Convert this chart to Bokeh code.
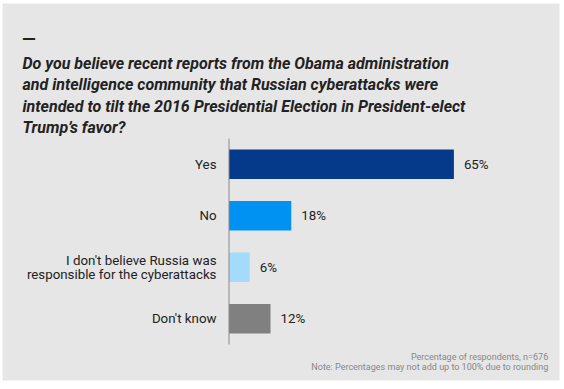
from bokeh.plotting import figure
from bokeh.models import Label, LabelSet, Range1d, ColumnDataSource
from bokeh.core.properties import value
from bokeh.embed import file_html
from bokeh.resources import INLINE

categories = ["Yes", "No",
              "I don't believe Russia was\nresponsible for the cyberattacks",
              "Don't know"]
values = [65, 18, 6, 12]
value_labels = ["65%", "18%", "6%", "12%"]
colors = ["#053a8b", "#0092f2", "#a3dcfa", "#808080"]
title_lines = [
    "Do you believe recent reports from the Obama administration",
    "and intelligence community that Russian cyberattacks were",
    "intended to tilt the 2016 Presidential Election in President-elect",
    "Trump\u2019s favor?",
]
notes = ["Percentage of respondents, n=676",
         "Note: Percentages may not add up to 100% due to rounding"]

BG = "#e6e6e6"
FONT = "Roboto"
TXT = "#222222"

# frame covers the grey panel; the scales put x=0 on the axis line
K = 3.46          # px per percent
BAND = 51.5       # px per category
X0_PX, Y0_PX = 228.5, 163.8
FL, FT, FR, FB = 2, 3, 559, 380
LINE_PX = 14.0
x_range = Range1d(-(X0_PX - FL) / K, (FR - X0_PX) / K)
y_range = Range1d((FB - Y0_PX) / BAND, -(Y0_PX - FT) / BAND)

p = figure(width=561, height=382, x_range=x_range, y_range=y_range,
           x_axis_type=None, y_axis_type=None,
           output_backend="svg", toolbar_location=None,
           min_border_left=FL, min_border_top=FT,
           min_border_right=561 - FR, min_border_bottom=382 - FB,
           background_fill_color=BG, border_fill_color="white",
           outline_line_color=None)
p.grid.visible = False

idx = list(range(len(categories)))
src = ColumnDataSource(dict(i=idx, val=values, lab=value_labels, col=colors))

p.hbar(y="i", right="val", left=0, height=0.573, color="col", line_color=None, source=src)

# axis line
p.segment(x0=[0], y0=[-0.5], x1=[0], y1=[len(categories) - 0.5],
          line_color="#8a8a8a", line_width=1)

# category labels, each line right-aligned on its own
lx, ly, lt = [], [], []
for i, cat in enumerate(categories):
    parts = cat.split("\n")
    n = len(parts)
    for j, part in enumerate(parts):
        lx.append(0)
        ly.append(i + (j - (n - 1) / 2) * LINE_PX / BAND)
        lt.append(part)
cat_src = ColumnDataSource(dict(x=lx, y=ly, t=lt))
p.add_layout(LabelSet(x="x", y="y", text="t", source=cat_src, x_offset=-12.5,
                      text_baseline="middle", text_align="right",
                      text_font=value(FONT), text_font_size="13.3px",
                      text_color=TXT))
p.add_layout(LabelSet(x="val", y="i", text="lab", source=src, x_offset=10,
                      text_baseline="middle", text_align="left",
                      text_font=value(FONT), text_font_size="13.3px", text_color=TXT))

def sx(px):
    return px - FL

def sy(py):
    return FB - py

p.add_layout(Label(x=sx(21.5), y=sy(37.5), x_units="screen", y_units="screen", text="\u2014",
                   text_font=FONT, text_font_style="bold", text_font_size="18px",
                   text_color=TXT, text_baseline="alphabetic"))
for i, line in enumerate(title_lines):
    p.add_layout(Label(x=sx(22), y=sy(63.3 + 21.1 * i), x_units="screen", y_units="screen",
                       text=line, text_font=FONT, text_font_style="bold italic",
                       text_font_size="16px", text_color=TXT,
                       text_baseline="alphabetic"))
for i, line in enumerate(notes):
    p.add_layout(Label(x=sx(547.7), y=sy(356.7 + 9.3 * i), x_units="screen", y_units="screen",
                       text=line, text_font=FONT, text_font_size="9px",
                       text_color="#888888", text_align="right",
                       text_baseline="alphabetic"))

open("out.html", "w").write(file_html(p, INLINE))
